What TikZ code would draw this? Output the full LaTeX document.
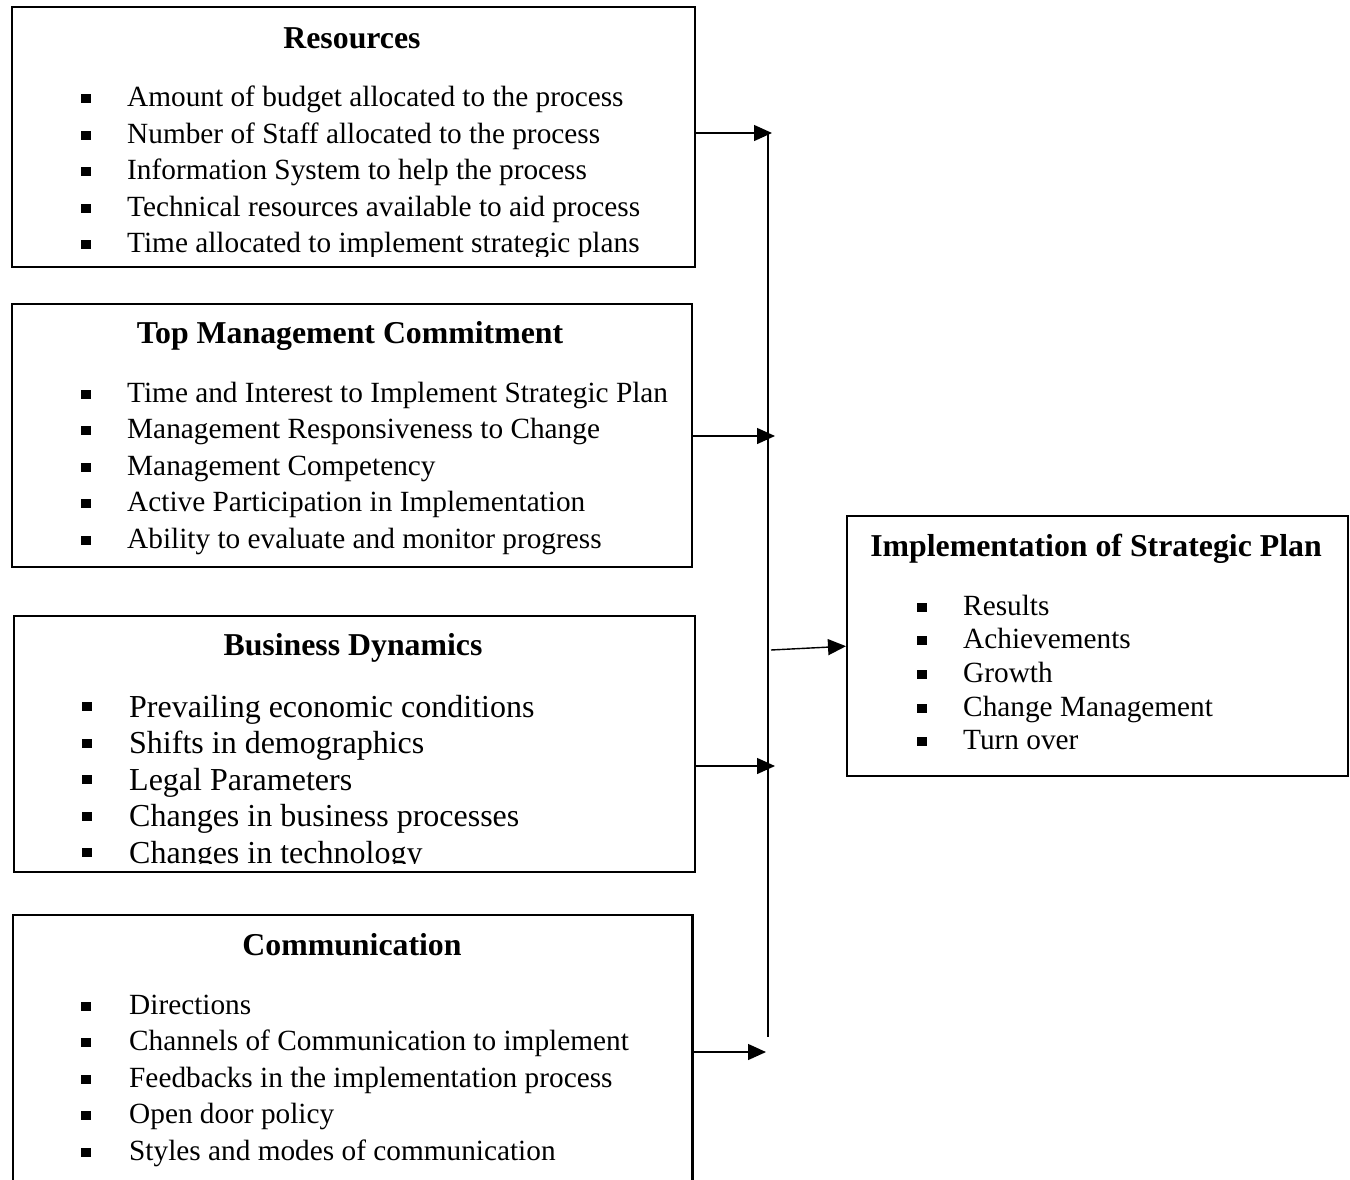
\documentclass[tikz,border=0pt]{standalone}
\usepackage{fontspec}
\setmainfont{Liberation Serif}
\usetikzlibrary{arrows.meta}
\tikzset{
  boxframe/.style={draw, line width=2.4pt, inner sep=0pt, anchor=north west},
  openframe/.style={draw=none, inner sep=0pt, anchor=north west},
  ttl/.style={anchor=base, inner sep=0pt, font=\fontsize{31.8}{32}\selectfont\bfseries},
  itm/.style={anchor=base west, inner sep=0pt, font=\fontsize{29.3}{30}\selectfont},
  itmbig/.style={anchor=base west, inner sep=0pt, font=\fontsize{32}{33}\selectfont},
  bsq/.style={fill=black, inner sep=0pt, minimum width=9.5pt, minimum height=9pt, draw=none},
  conn/.style={line width=1.4pt, -{Triangle[length=18pt,width=16pt]}},
  trunk/.style={line width=1.4pt},
}
% #1 name, #2 bullet x, #3 text x, #4 first baseline, #5 step, #6 style, #7 bullet offset, #8 items
\newcommand\itemlist[8]{%
  \foreach \t [count=\i] in {#8} {
    \pgfmathsetmacro\yy{#4+(\i-1)*#5}
    \pgfmathsetmacro\yb{\yy-#7}
    \node[#6] (#1-t\i) at (#3,\yy) {\t};
    \node[bsq] (#1-b\i) at (#2,\yb) {};
  }}
\begin{document}
\begin{tikzpicture}[x=1pt,y=-1pt]
\useasboundingbox (0,0) rectangle (1350,1179);
% boxes
\node[boxframe, minimum width=683pt, minimum height=260pt] (res) at (11,6) {};
\node[boxframe, minimum width=680pt, minimum height=263pt] (tmc) at (11,303) {};
\node[boxframe, minimum width=681pt, minimum height=256pt] (bd) at (13,615) {};
\node[openframe, minimum width=679pt, minimum height=270pt] (comm) at (13,915) {};
\draw[line width=2.4pt] (comm.south west) |- (comm.north east) -- (comm.south east);
\node[boxframe, minimum width=501pt, minimum height=260pt] (impl) at (846,515) {};
% titles
\node[ttl] (res-title) at (352,48) {Resources};
\node[ttl] (tmc-title) at (350,343) {Top Management Commitment};
\node[ttl] (bd-title) at (353,655) {Business Dynamics};
\node[ttl] (comm-title) at (352,955) {Communication};
\node[ttl] (impl-title) at (1096,556) {Implementation of Strategic Plan};
% items
\begin{scope}
\clip (0,0) rectangle (694,256);
\itemlist{res}{86}{127}{106.5}{36.6}{itm}{8}{Amount of budget allocated to the process,Number of Staff allocated to the process,Information System to help the process,Technical resources available to aid process,Time allocated to implement strategic plans}
\end{scope}
\itemlist{tmc}{86}{127}{402}{36.5}{itm}{8}{Time and Interest to Implement Strategic Plan,Management Responsiveness to Change,Management Competency,Active Participation in Implementation,Ability to evaluate and monitor progress}
\begin{scope}
\clip (0,600) rectangle (694,863);
\itemlist{bd}{87}{129}{717}{36.6}{itmbig}{10.5}{Prevailing economic conditions,Shifts in demographics,Legal Parameters,Changes in business processes,Changes in technology}
\end{scope}
\itemlist{comm}{86}{129}{1014}{36.5}{itm}{8}{Directions,Channels of Communication to implement,Feedbacks in the implementation process,Open door policy,Styles and modes of communication}
\itemlist{impl}{922}{963}{615}{33.7}{itm}{8}{Results,Achievements,Growth,Change Management,Turn over}
% connectors
\coordinate (j1) at (768,133);
\coordinate (jbot) at (768,1037);
\coordinate (jout) at (771,650);
\coordinate (t1) at (772,133);
\coordinate (t2) at (775,436);
\coordinate (t3) at (775,766);
\coordinate (t4) at (766,1052);
\draw[trunk] (j1) -- (jbot);
\draw[conn] (res.east |- t1) -- (t1);
\draw[conn] (tmc.east |- t2) -- (t2);
\draw[conn] (bd.east |- t3) -- (t3);
\draw[conn] (comm.east |- t4) -- (t4);
\draw[conn] (jout) -- (impl.west);
\end{tikzpicture}
\end{document}
